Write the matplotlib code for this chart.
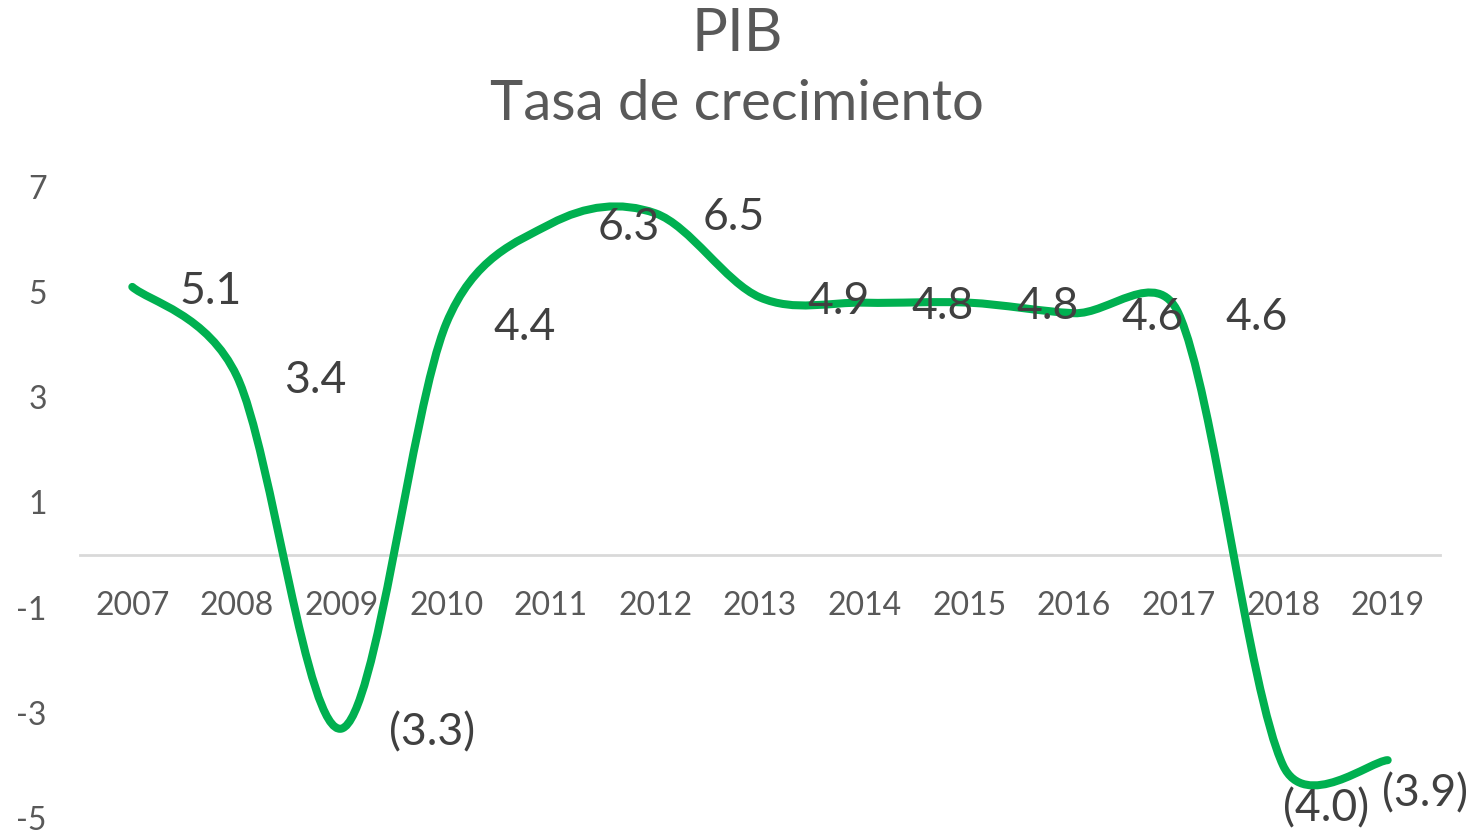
import numpy as np
import matplotlib
matplotlib.use("Agg")
import matplotlib.pyplot as plt
from matplotlib.path import Path
from matplotlib.patches import PathPatch

years = ["2007", "2008", "2009", "2010", "2011", "2012", "2013",
         "2014", "2015", "2016", "2017", "2018", "2019"]
pib = [5.1, 3.4, -3.3, 4.4, 6.3, 6.5, 4.9, 4.8, 4.8, 4.6, 4.6, -4.0, -3.9]
y_ticks = [7, 5, 3, 1, -1, -3, -5]
y_tick_labels = ["7", "5", "3", "1", "-1", "-3", "-5"]

GREEN = "#00B050"
GRIS = "#595959"
GRIS_OSC = "#404040"


def etiqueta(v):
    if v < 0:
        return "({:.1f})".format(-v)
    return "{:.1f}".format(v)


def suavizado_excel(px, py):
    # curva bezier como el "linea suavizada" de Excel, en pixeles
    pts = np.column_stack([px, py])
    n = len(pts)
    verts = [pts[0]]
    codes = [Path.MOVETO]
    f = 1 / 6
    for i in range(n - 1):
        p0 = pts[i - 1] if i > 0 else pts[i]
        p1 = pts[i]
        p2 = pts[i + 1]
        p3 = pts[i + 2] if i + 2 < n else pts[i + 1]
        d02 = np.hypot(*(p2 - p0))
        d12 = np.hypot(*(p2 - p1))
        d13 = np.hypot(*(p3 - p1))
        f0 = f if d02 / 6 < d12 / 2 else d12 / d02 / 2
        f1 = f if d13 / 6 < d12 / 2 else d12 / d13 / 2
        c1 = p1 + (p2 - p0) * f0
        c2 = p2 - (p3 - p1) * f1
        verts += [c1, c2, p2]
        codes += [Path.CURVE4] * 3
    return np.array(verts), codes


fig = plt.figure(figsize=(14.8, 8.35), dpi=100)
ax = fig.add_axes([80 / 1480, 1 - 818 / 835, 1360 / 1480, (818 - 187) / 835])

x = np.arange(len(years))
ax.set_xlim(-0.5, len(years) - 0.5)
ax.set_ylim(-5, 7)

for s in ["top", "right", "left"]:
    ax.spines[s].set_visible(False)
ax.spines["bottom"].set_position(("data", 0))
ax.spines["bottom"].set_color("#D9D9D9")
ax.spines["bottom"].set_linewidth(2)
ax.spines["bottom"].set_zorder(1)

ax.set_xticks([])
ax.set_yticks(y_ticks)
ax.set_yticklabels(y_tick_labels, fontfamily="Lato", fontsize=23, color=GRIS)
ax.tick_params(axis="y", length=0, pad=24)

for xi, yr in zip(x, years):
    ax.annotate(yr, (xi, 0), xytext=(0, -37), textcoords="offset points",
                ha="center", va="center", fontfamily="Lato", fontsize=23,
                color=GRIS)

# linea suavizada
disp = ax.transData.transform(np.column_stack([x, pib]))
verts, codes = suavizado_excel(disp[:, 0], disp[:, 1])
verts_data = ax.transData.inverted().transform(verts)
patch = PathPatch(Path(verts_data, codes), fill=False, edgecolor=GREEN,
                  linewidth=5.8, capstyle="round", joinstyle="round",
                  zorder=3, clip_on=False)
ax.add_patch(patch)

# etiquetas de datos a la derecha
offsets = [(34, -3)] * (len(pib) - 2) + [(0, -31), (-4, -24)]
for xi, v, off in zip(x, pib, offsets):
    ax.annotate(etiqueta(v), (xi, v), xytext=off, textcoords="offset points",
                ha="left", va="center", fontfamily="Lato",
                fontsize=32, color=GRIS_OSC, zorder=5, annotation_clip=False)

fig.text(0.498, 1 - 34 / 835, "PIB", ha="center", va="center",
         fontfamily="Lato", fontsize=43, color=GRIS)
fig.text(0.498, 1 - 104 / 835, "Tasa de crecimiento", ha="center",
         va="center", fontfamily="Lato", fontsize=40.5, color=GRIS)

fig.savefig("out.png", dpi=100)
